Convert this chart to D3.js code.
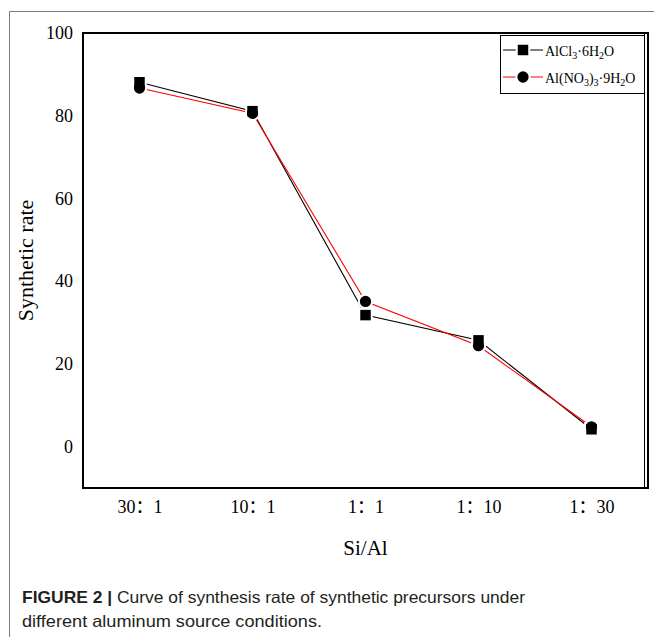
<!DOCTYPE html>
<html>
<head>
<meta charset="utf-8">
<script src="https://cdn.jsdelivr.net/npm/d3@7"></script>
<style>
  html, body { margin: 0; padding: 0; background: #fff; }
  svg { display: block; }
</style>
</head>
<body>
<svg id="chart" width="654" height="637"></svg>
<script>
// Si/Al ratio categories and synthesis rates for each aluminium source
const categories = ["30：1", "10：1", "1：1", "1：10", "1：30"];
const alcl3Values = [88.1, 81.1, 31.8, 25.7, 4.2];
const alno3Values = [86.7, 80.6, 35.1, 24.4, 4.8];
const yTicks = [0, 20, 40, 60, 80, 100];
const yDomain = [-10, 100];

const series = [
  { name: "AlCl3", values: alcl3Values, color: "#000000", symbol: d3.symbolSquare,
    label: [["Al", 0], ["Cl", 0], ["3", 1], ["·6H", 0], ["2", 1], ["O", 0]] },
  { name: "AlNO3", values: alno3Values, color: "#ff0000", symbol: d3.symbolCircle,
    label: [["Al(NO", 0], ["3", 1], [")", 0], ["3", 1], ["·9H", 0], ["2", 1], ["O", 0]] }
];

const svg = d3.select("#chart");
const serif = "'Liberation Serif', 'Times New Roman', serif";

// outer figure frame (left and top edges)
svg.append("path")
  .attr("d", "M9.5,637 V11.5 H654")
  .attr("fill", "none").attr("stroke", "#7a7a7a").attr("stroke-width", 1);

const plot = { left: 83, right: 648, top: 33, bottom: 488 };

const x = d3.scalePoint().domain(categories).range([plot.left, plot.right]).padding(0.5);
const y = d3.scaleLinear().domain(yDomain).range([plot.bottom, plot.top]);

// axes (labels only; frame drawn separately)
const yAxis = svg.append("g")
  .attr("transform", `translate(${plot.left},0)`)
  .attr("font-family", serif)
  .call(d3.axisLeft(y).tickValues(yTicks).tickSize(0).tickPadding(10));
yAxis.select(".domain").remove();
yAxis.selectAll("text").attr("font-family", serif).attr("font-size", 18).attr("fill", "#000");

const xAxis = svg.append("g")
  .attr("transform", `translate(0,${plot.bottom})`)
  .call(d3.axisBottom(x).tickSize(0).tickPadding(12));
xAxis.select(".domain").remove();
xAxis.selectAll("text")
  .attr("font-family", "'Liberation Serif', 'Noto Sans CJK SC', serif")
  .attr("font-size", 18).attr("fill", "#000");

// plot frame
svg.append("rect")
  .attr("x", plot.left).attr("y", plot.top)
  .attr("width", plot.right - plot.left).attr("height", plot.bottom - plot.top)
  .attr("fill", "none").attr("stroke", "#000").attr("stroke-width", 2);
svg.append("line")
  .attr("x1", plot.right - 3.5).attr("x2", plot.right - 3.5)
  .attr("y1", plot.top).attr("y2", plot.bottom)
  .attr("stroke", "#000").attr("stroke-width", 1);

// series lines
const line = d3.line().x((d, i) => x(categories[i])).y(d => y(d));
series.forEach(s => {
  svg.append("path")
    .datum(s.values)
    .attr("d", line)
    .attr("fill", "none")
    .attr("stroke", s.color)
    .attr("stroke-width", 1.1);
});

// markers: white halos first, then filled symbols
const symSize = { square: 110, circle: 100 };
function symbolPath(s) {
  return d3.symbol().type(s.symbol).size(s.symbol === d3.symbolSquare ? symSize.square : symSize.circle)();
}
series.forEach(s => {
  svg.append("g").selectAll("path")
    .data(s.values).join("path")
    .attr("transform", (d, i) => `translate(${x(categories[i])},${y(d)})`)
    .attr("d", symbolPath(s))
    .attr("fill", "#fff").attr("stroke", "#fff").attr("stroke-width", 4);
});
series.forEach(s => {
  svg.append("g").selectAll("path")
    .data(s.values).join("path")
    .attr("transform", (d, i) => `translate(${x(categories[i])},${y(d)})`)
    .attr("d", symbolPath(s))
    .attr("fill", "#000");
});

// legend
const legend = svg.append("g");
legend.append("rect")
  .attr("x", 500.5).attr("y", 35.5).attr("width", 144).attr("height", 58)
  .attr("fill", "#fff").attr("stroke", "#000").attr("stroke-width", 1);
const legendRows = [50, 77];
series.forEach((s, k) => {
  const ly = legendRows[k];
  legend.append("line")
    .attr("x1", 503).attr("x2", 543).attr("y1", ly).attr("y2", ly)
    .attr("stroke", s.color).attr("stroke-width", 1.1);
  legend.append("path")
    .attr("transform", `translate(523,${ly})`)
    .attr("d", symbolPath(s))
    .attr("fill", "#fff").attr("stroke", "#fff").attr("stroke-width", 4);
  legend.append("path")
    .attr("transform", `translate(523,${ly})`)
    .attr("d", symbolPath(s))
    .attr("fill", "#000");
  const t = legend.append("text")
    .attr("x", 545).attr("y", ly + 6)
    .attr("font-family", serif).attr("font-size", 14).attr("fill", "#000");
  let shifted = false;
  s.label.forEach(([str, sub]) => {
    const ts = t.append("tspan").text(str);
    if (sub && !shifted) { ts.attr("dy", 3).attr("font-size", 10); shifted = true; }
    else if (sub) { ts.attr("font-size", 10); }
    else if (shifted) { ts.attr("dy", -3); shifted = false; }
  });
});

// axis titles
svg.append("text")
  .attr("transform", `translate(33,${(plot.top + plot.bottom) / 2}) rotate(-90)`)
  .attr("text-anchor", "middle")
  .attr("font-family", serif).attr("font-size", 22).attr("fill", "#000")
  .text("Synthetic rate");
svg.append("text")
  .attr("x", (plot.left + plot.right) / 2).attr("y", 555)
  .attr("text-anchor", "middle")
  .attr("font-family", serif).attr("font-size", 21).attr("fill", "#000")
  .text("Si/Al");

// caption
const sans = "'Liberation Sans', Arial, sans-serif";
const cap1 = svg.append("text")
  .attr("x", 22).attr("y", 603)
  .attr("font-family", sans).attr("font-size", 16.5).attr("fill", "#231f20")
  .attr("textLength", 503).attr("lengthAdjust", "spacingAndGlyphs");
cap1.append("tspan").attr("font-weight", "bold").text("FIGURE 2 |");
cap1.append("tspan").text(" Curve of synthesis rate of synthetic precursors under");
svg.append("text")
  .attr("x", 22).attr("y", 627)
  .attr("font-family", sans).attr("font-size", 16.5).attr("fill", "#231f20")
  .attr("textLength", 300).attr("lengthAdjust", "spacingAndGlyphs")
  .text("different aluminum source conditions.");
</script>
</body>
</html>
